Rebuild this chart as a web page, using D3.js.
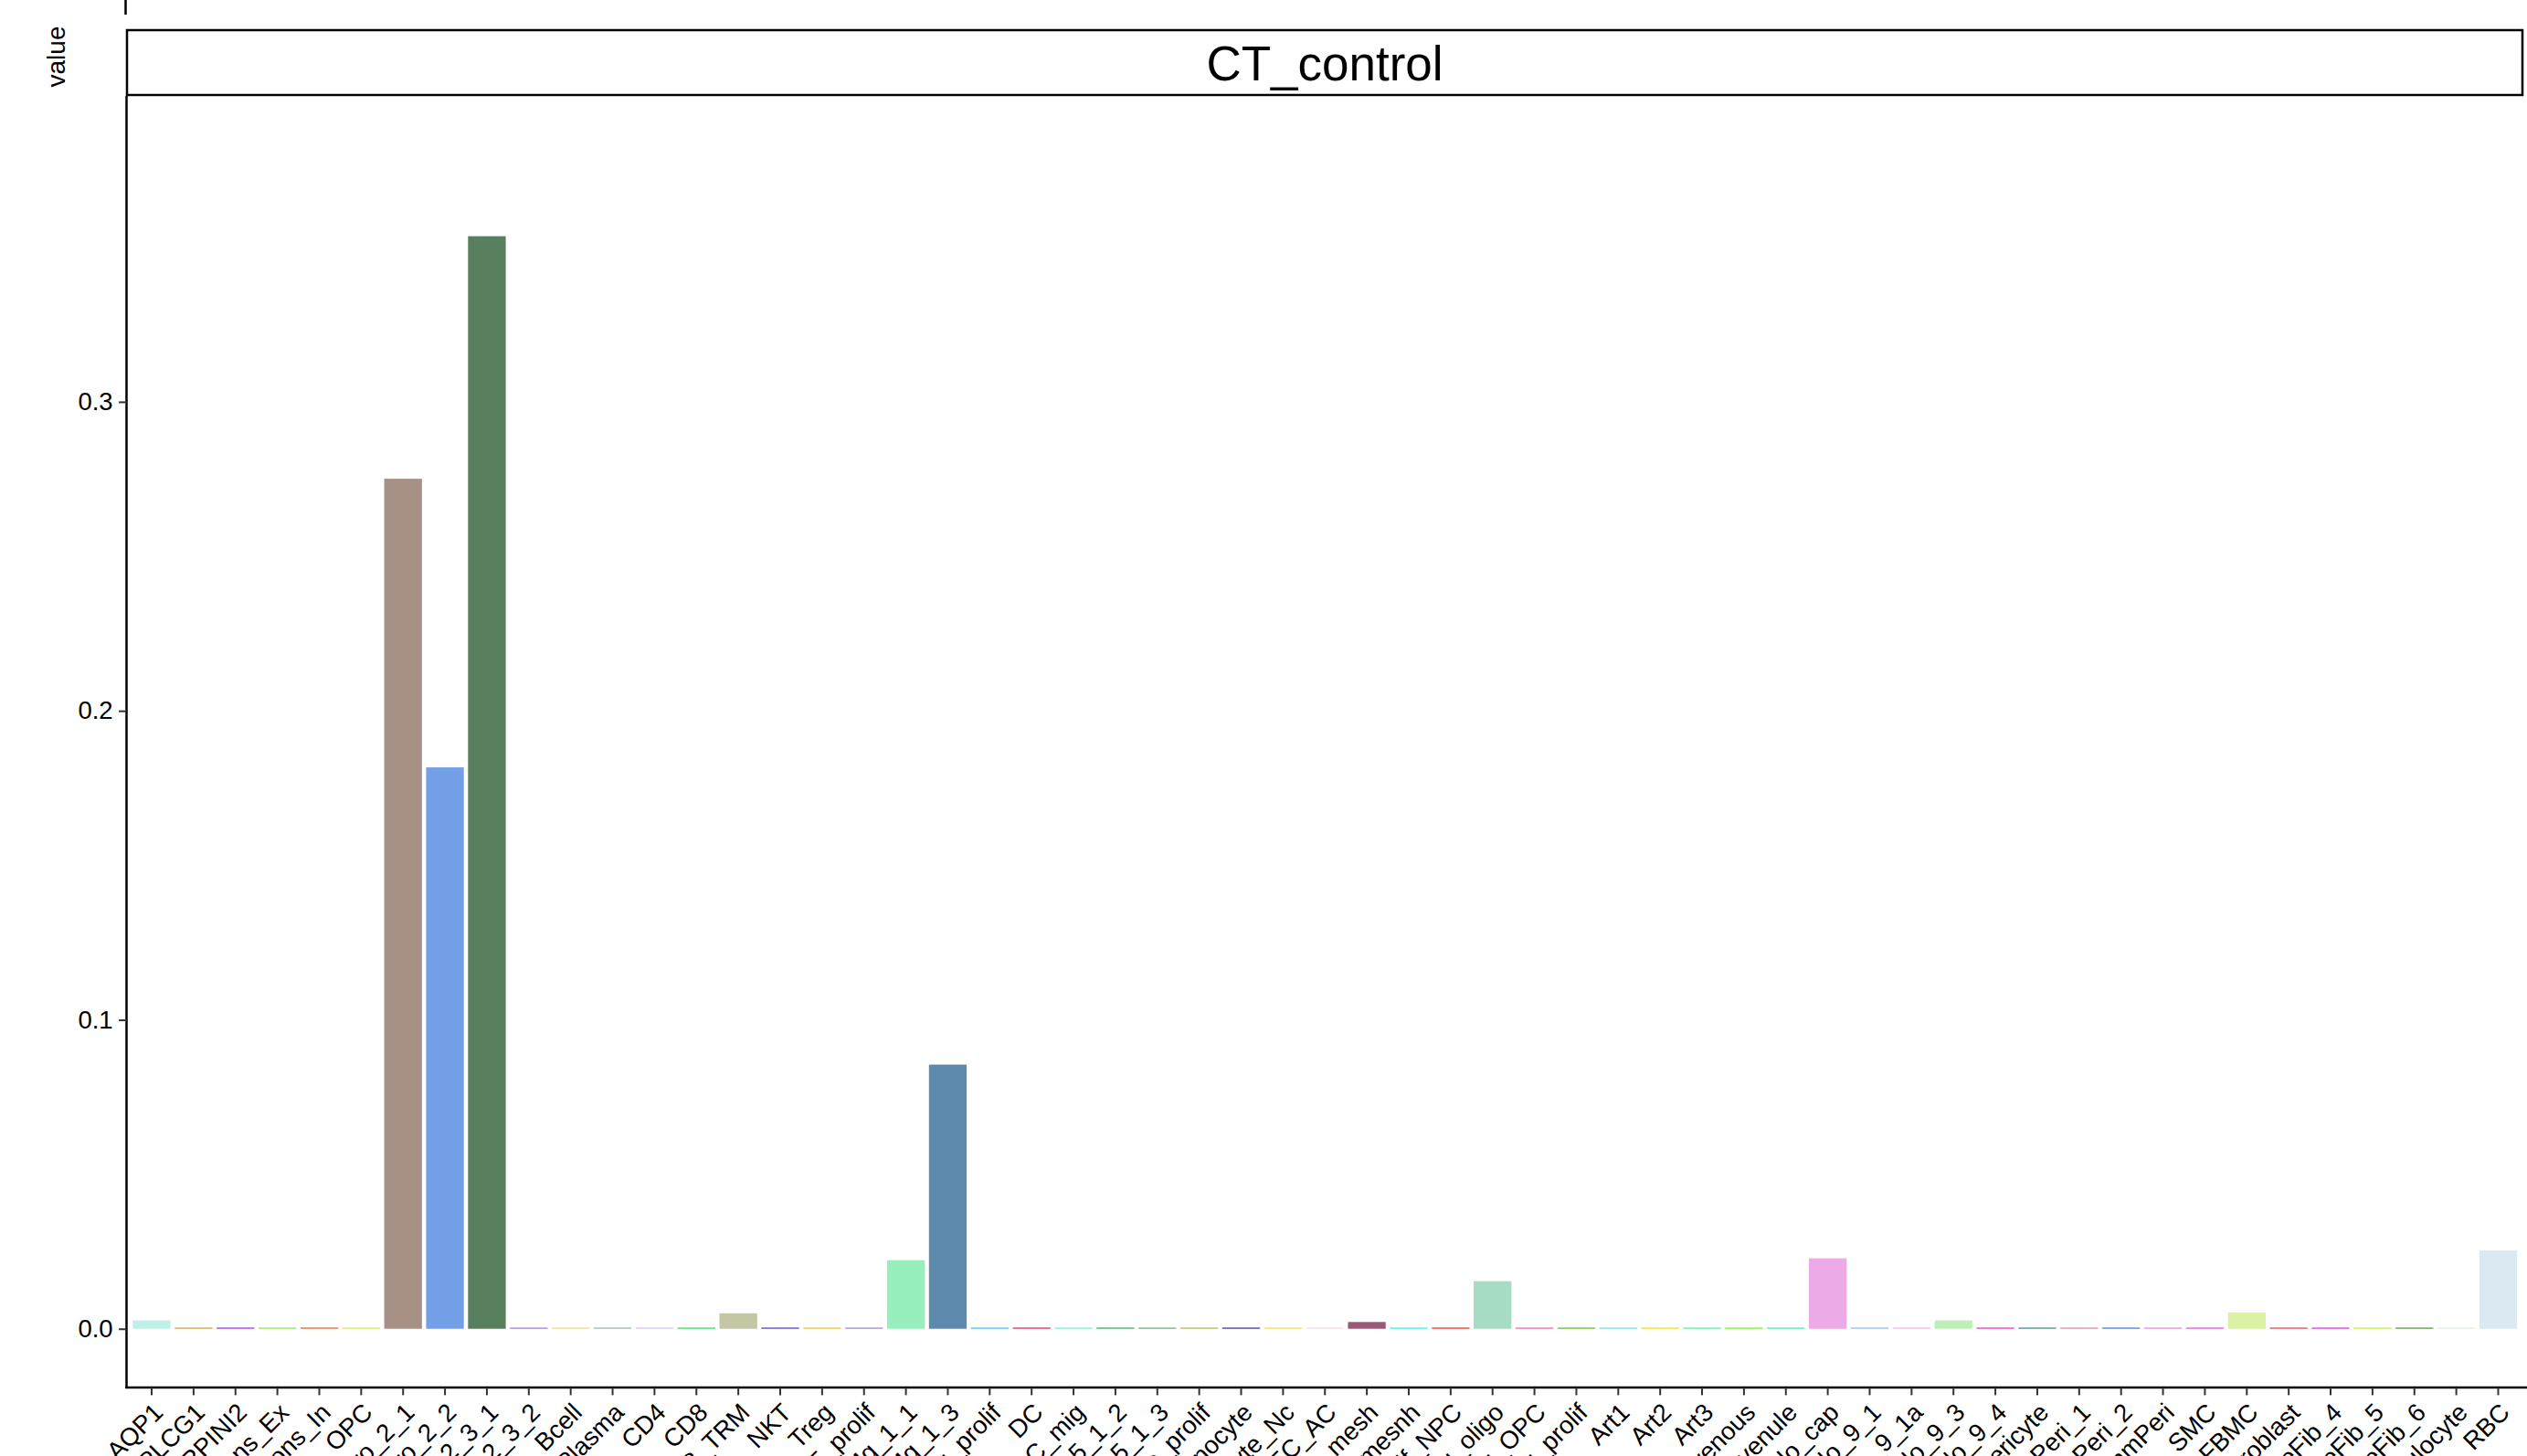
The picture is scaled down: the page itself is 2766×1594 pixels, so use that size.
<!DOCTYPE html>
<html>
<head>
<meta charset="utf-8">
<script src="https://cdn.jsdelivr.net/npm/d3@7"></script>
<style>
  html, body { margin: 0; padding: 0; background: #fff; }
  svg { display: block; }
</style>
</head>
<body>
<svg id="chart" width="2766" height="1594"></svg>
<script>
const categories = [
  "Astro_AQP1","Astro_PLCG1","Astro_SERPINI2","Neurons_Ex","Neurons_In","OPC",
  "Macro_2_1","Macro_2_2","Macro_2_3_1","Macro_2_3_2","Bcell","Plasma","CD4","CD8",
  "CD8_TRM","NKT","Treg","T_prolif","Mg_1_1","Mg_1_3","Mg_prolif","DC","DC_mig",
  "Mac5_1_2","Mac5_1_3","Mac_prolif","Monocyte","Monocyte_Nc","EC_AC","Fib_mesh",
  "Fib_mesnh","Prolif_NPC","Olig_oligo","Olig_OPC","Olig_prolif","Art1","Art2","Art3",
  "EC_venous","EC_venule","Endo_cap","Endo_9_1","Endo_9_1a","Endo_9_3","Endo_9_4",
  "Pericyte","Peri_1","Peri_2","ImmPeri","SMC","FBMC","Fibroblast","PeFib_4","PeFib_5",
  "PeFib_6","Granulocyte","RBC"
];
const values = [
  0.0027,0.0004,0.0004,0.0004,0.0004,0.0004,
  0.2751,0.1817,0.3536,0.0004,0.0004,0.0004,0.0004,0.0004,
  0.0050,0.0004,0.0004,0.0004,0.0222,0.0855,0.0004,0.0004,0.0004,
  0.0004,0.0004,0.0004,0.0004,0.0004,0.0004,0.0022,
  0.0004,0.0004,0.0154,0.0004,0.0004,0.0004,0.0004,0.0004,
  0.0004,0.0004,0.0228,0.0004,0.0004,0.0027,0.0004,
  0.0004,0.0004,0.0004,0.0004,0.0004,0.0053,0.0004,0.0004,0.0004,
  0.0004,0.0004,0.0254
];
const colors = [
  "#bdf0e6","#d9a24a","#a53ff0","#98e860","#e0703e","#d8e860",
  "#a79187","#739fe6","#577f5d","#a585e0","#f0dc90","#a0bab4","#d4c4f4","#40e060",
  "#c5c6a3","#6048c8","#f0c040","#a090d0","#98efbe","#5e8aae","#50c8f0","#e03070","#80f0dc",
  "#40b070","#80b080","#b0c060","#5040a8","#f0e060","#f0e0e0","#9a5878",
  "#40f0f0","#f04030","#a6dcc4","#f070b0","#70c040","#70e0f0","#f0e020","#60f0b0",
  "#80f030","#50e8c0","#ecaae6","#90c0f0","#f0c0e0","#c0eeb8","#f040c0",
  "#509090","#e090b0","#5080e0","#e890e8","#e060e0","#daf2a2","#e05060","#e040e0","#c8f040",
  "#60a040","#e0f0d8","#dbeaf2"
];
const yTicks = [0, 0.1, 0.2, 0.3];
const facetLabel = "CT_control";
const yTitle = "value";

const svg = d3.select("#chart");
const pLeft = 138.5, pRight = 2762, pTop = 105, pBottom = 1519;
const font = "'Liberation Sans', Arial, sans-serif";

const x = d3.scaleBand().domain(categories).range([pLeft, pRight])
  .paddingInner(0.1).paddingOuter(0.15);
const y = d3.scaleLinear().domain([-0.019, 0.399]).range([pBottom, pTop]);

// remnant axis of facet above
svg.append("line").attr("x1", 137.5).attr("x2", 137.5).attr("y1", 0).attr("y2", 16)
  .attr("stroke", "#000").attr("stroke-width", 2.5);

// y title
svg.append("text").attr("transform", "translate(71,62) rotate(-90)")
  .attr("text-anchor", "middle").attr("font-family", font).attr("font-size", 28)
  .attr("fill", "#000").text(yTitle);

// strip
svg.append("rect").attr("x", 139).attr("y", 33).attr("width", 2761 - 139).attr("height", 71)
  .attr("fill", "#fff").attr("stroke", "#000").attr("stroke-width", 2.5);
svg.append("text").attr("x", (139 + 2761) / 2).attr("y", 69).attr("dy", "0.35em")
  .attr("text-anchor", "middle").attr("font-family", font).attr("font-size", 53)
  .attr("fill", "#000").text(facetLabel);

// bars
svg.append("g").selectAll("rect").data(categories).join("rect")
  .attr("x", d => x(d))
  .attr("width", x.bandwidth())
  .attr("y", (d, i) => y(values[i]))
  .attr("height", (d, i) => y(0) - y(values[i]))
  .attr("fill", (d, i) => colors[i]);

// y axis
const yAxis = svg.append("g").attr("transform", `translate(${pLeft},0)`)
  .call(d3.axisLeft(y).tickValues(yTicks).tickFormat(d3.format(".1f")).tickSize(8.4).tickPadding(6.5));
yAxis.select(".domain").attr("stroke", "#000").attr("stroke-width", 2.5)
  .attr("d", `M0,${pTop}V${pBottom + 1}`);
yAxis.selectAll(".tick line").attr("stroke", "#333").attr("stroke-width", 2);
yAxis.selectAll(".tick text").attr("font-family", font).attr("font-size", 27.5).attr("fill", "#000");

// x axis
const xAxis = svg.append("g").attr("transform", `translate(0,${pBottom})`)
  .call(d3.axisBottom(x).tickSize(8.4).tickPadding(4));
xAxis.select(".domain").attr("stroke", "#000").attr("stroke-width", 2.5)
  .attr("d", `M${pLeft - 1.25},0H${pRight + 4}`);
xAxis.selectAll(".tick line").attr("stroke", "#333").attr("stroke-width", 2);
xAxis.selectAll(".tick text")
  .attr("font-family", font).attr("font-size", 27.5).attr("fill", "#000")
  .attr("text-anchor", "end")
  .attr("y", 0).attr("dy", 0)
  .attr("transform", "translate(14,29) rotate(-45)");
</script>
</body>
</html>
